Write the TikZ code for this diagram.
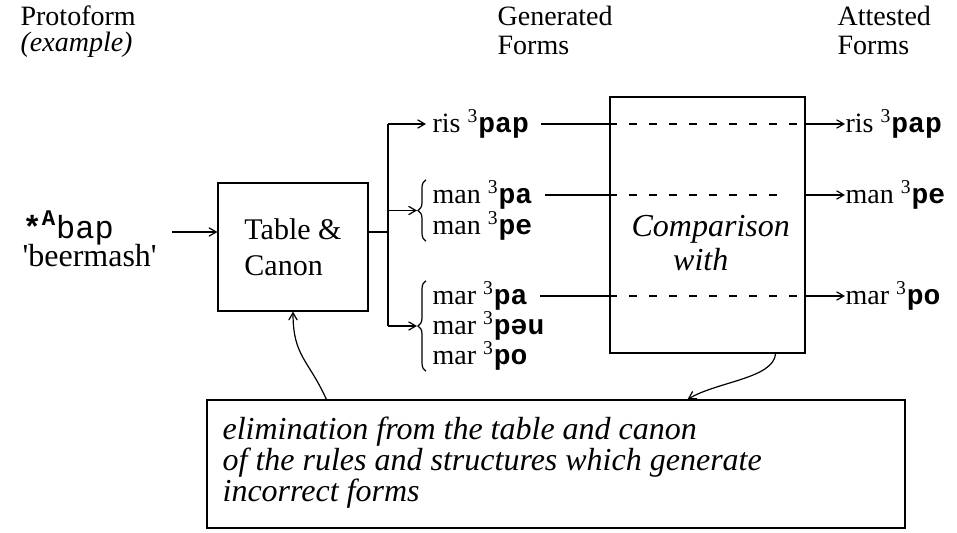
\documentclass[tikz,border=0pt]{standalone}
\usepackage{fontspec}
\setmainfont{Liberation Serif}
\newfontfamily\formfont{Liberation Mono}
\usetikzlibrary{arrows}
\usetikzlibrary{positioning}
\usetikzlibrary{calc}
\usetikzlibrary{decorations.pathreplacing}
\newcommand{\pform}[2]{#1 \textsuperscript{3}{\formfont\bfseries #2}}

\begin{document}
\begin{tikzpicture}[x=0.5pt,y=-0.5pt,>=angle 60,line width=0.6pt,
    head node/.style={anchor=west,inner sep=0pt,font=\fontsize{14}{16}\selectfont},
    form node/.style={anchor=west,inner sep=0pt,font=\fontsize{14}{14}\selectfont},
    box node/.style={draw,inner sep=0pt,font=\fontsize{15}{18}\selectfont},
    open brace/.style={decorate,decoration={brace,amplitude=4pt}},
    cut line/.style={dash pattern=on 4pt off 6pt}]
  \useasboundingbox (0,0) rectangle (957,533);
  % headings
  \node[head node] (proto) at (20,16) {Protoform};
  \node[head node] (protoex) at (20,45) {\textit{(example)}};
  \node[head node] (gen) at (497,16) {Generated};
  \node[head node] (genf) at (497,45) {Forms};
  \node[head node] (att) at (837,16) {Attested};
  \node[head node] (attf) at (837,45) {Forms};
  % protoform and table
  \node[form node,font=\fontsize{16}{16}\selectfont] (abap) at (22,228) {{\formfont\bfseries *}\textsuperscript{\formfont\bfseries A}{\formfont bap}};
  \node[form node,font=\fontsize{16}{16}\selectfont] (beer) at (22,256) {\textquotesingle beermash\textquotesingle};
  \node[box node,minimum width=75pt,minimum height=64pt,align=left] (tab) at (293,247) {Table \&\\Canon};
  \coordinate (in) at (172,232);
  \coordinate (fork) at (388,232);
  \draw[->] (in) -- (in -| tab.west);
  \draw (fork -| tab.east) -- (fork);
  % generated forms
  \node[form node] (ris) at (432,124) {\pform{ris}{pap}};
  \node[form node] (man1) at (432,195) {\pform{man}{pa}};
  \node[form node] (man2) at (432,226) {\pform{man}{pe}};
  \node[form node] (mar1) at (432,296) {\pform{mar}{pa}};
  \node[form node] (mar2) at (432,326) {\pform{mar}{pəu}};
  \node[form node] (mar3) at (432,356) {\pform{mar}{po}};
  \draw[open brace] ([xshift=-3pt]man2.south west) -- ([xshift=-3pt]man1.north west);
  \draw[open brace] ([xshift=-3pt]mar3.south west) -- ([xshift=-3pt]mar1.north west);
  \coordinate (mantip) at ($(man1.north west)!0.5!(man2.south west)+(-15,0)$);
  \coordinate (martip) at ($(mar1.north west)!0.5!(mar3.south west)+(-15,0)$);
  \draw (fork |- ris) -- (fork |- martip);
  \draw[->] (fork |- ris) -- ([xshift=-3pt]ris.west);
  \draw[->] (fork |- mantip) -- (mantip);
  \draw[->] (fork |- martip) -- (martip);
  % comparison
  \node[box node,minimum width=97.5pt,minimum height=128pt] (cmp) at (707.5,225) {};
  \node[anchor=west,inner sep=0pt,align=left,font=\fontsize{16}{17}\itshape] (cmptxt) at (631,243) {Comparison\\\hspace{1.3em}with};
  % attested forms
  \node[form node] (aris) at (845,124) {\pform{ris}{pap}};
  \node[form node] (aman) at (845,195) {\pform{man}{pe}};
  \node[form node] (amar) at (845,296) {\pform{mar}{po}};
  \draw ([xshift=6pt]ris.east) -- (ris.east -| cmp.west);
  \draw[cut line] (ris.east -| cmp.west) -- (ris.east -| cmp.east);
  \draw[->] (ris.east -| cmp.east) -- (aris.west);
  \draw ([xshift=6pt]man1.east) -- (man1.east -| cmp.west);
  \draw[cut line] (man1.east -| cmp.west) -- ([xshift=-11pt]man1.east -| cmp.east);
  \draw[->] (man1.east -| cmp.east) -- (aman.west);
  \draw ([xshift=6pt]mar1.east) -- (mar1.east -| cmp.west);
  \draw[cut line] (mar1.east -| cmp.west) -- (mar1.east -| cmp.east);
  \draw[->] (mar1.east -| cmp.east) -- (amar.west);
  % elimination
  \node[box node,minimum width=349pt,minimum height=64pt] (elim) at (556,464) {};
  \node[anchor=north west,inner sep=0pt,align=left,font=\fontsize{16}{14.5}\itshape] (elimtxt) at (222,416) {elimination from the table and canon\\of the rules and structures which generate\\incorrect forms};
  \draw[->] ([xshift=60pt]elim.north west) .. controls +(-18,-40) and +(0,45) .. (tab.south);
  \draw[->] ([xshift=-15pt]cmp.south east) .. controls +(-2,25) and +(30,-18) .. ([xshift=-10pt]cmp.south |- elim.north);
\end{tikzpicture}
\end{document}
